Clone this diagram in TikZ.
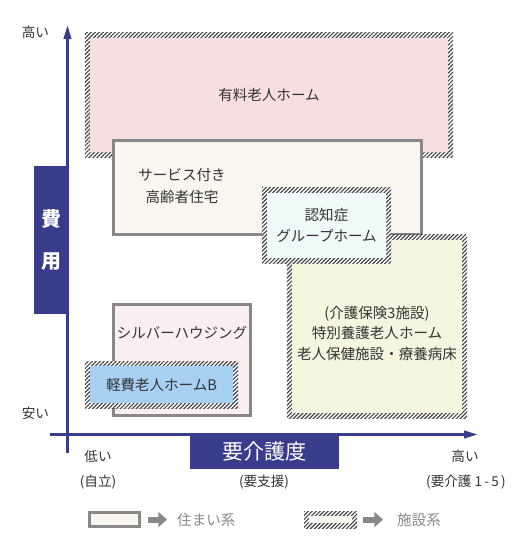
\documentclass[tikz,border=0pt]{standalone}
\usepackage{fontspec}
\setmainfont{Noto Sans CJK JP}
\usetikzlibrary{arrows.meta,positioning,calc,patterns.meta}
\definecolor{ink}{RGB}{51,51,51}
\definecolor{navy}{RGB}{56,60,138}
\definecolor{frame}{RGB}{136,136,136}
\definecolor{hatchink}{RGB}{70,70,70}
\definecolor{pinkF}{RGB}{247,223,223}
\definecolor{creamF}{RGB}{249,245,239}
\definecolor{mintF}{RGB}{238,250,248}
\definecolor{oliveF}{RGB}{245,246,224}
\definecolor{roseF}{RGB}{251,238,240}
\definecolor{skyF}{RGB}{168,208,242}
\newcommand{\lbfont}{\fontsize{12.4}{17.5}\selectfont}
\newcommand{\axfont}{\fontsize{11.6}{14}\selectfont}
\tikzset{
  hatchbox/.style={draw=none,preaction={fill=white},
    pattern={Lines[angle=45,distance=2.4pt,line width=1pt]},pattern color=hatchink,
    path picture={\fill[#1] ($(path picture bounding box.south west)+(4.3pt,4.3pt)$)
      rectangle ($(path picture bounding box.north east)-(4.3pt,4.3pt)$);},
    inner sep=0pt,text=ink,font=\lbfont,align=center},
  solidbox/.style={draw=frame,line width=2.4pt,fill=#1,inner sep=0pt,text=ink,font=\lbfont,align=center},
  lbl/.style={text=ink,font=\lbfont,align=center,inner sep=0pt},
  axlab/.style={text=ink,font=\axfont,inner sep=0pt},
  axis/.style={draw=navy,line width=2.3pt,-{Triangle[length=4.2mm,width=2.2mm]}},
  navybox/.style={fill=navy,text=white,inner sep=0pt,align=center},
  legarr/.style={draw=frame,line width=1.8mm,-{Triangle[length=2.6mm,width=4.5mm]}},
  legtxt/.style={text=frame,font=\lbfont,inner sep=0pt,anchor=west},
}

\begin{document}
\begin{tikzpicture}[x=0.03cm,y=-0.03cm]
\useasboundingbox (0,0) rectangle (530,553);
% facilities, back to front
\node[hatchbox=pinkF,minimum width=11.04cm,minimum height=3.72cm] (yuryo) at (269,95) {有料老人ホーム};
\node[solidbox=creamF,minimum width=9.24cm,minimum height=2.82cm] (sakoju) at (267.5,187.5) {};
\node[lbl] (sakojuT) at (182,186) {サービス付き\\[1.2pt]高齢者住宅};
\node[hatchbox=oliveF,minimum width=5.4cm,minimum height=5.5cm] (kaigo) at (377,326.5) {};
\node[lbl] (kaigoT) at (377,333) {(介護保険3施設)\\特別養護老人ホーム\\老人保健施設・療養病床};
\node[hatchbox=mintF,minimum width=3.87cm,minimum height=2.28cm] (ninchi) at (326.5,225.5) {認知症\\グループホーム};
\node[solidbox=roseF,minimum width=4.11cm,minimum height=3.33cm] (silver) at (182,360) {};
\node[lbl] (silverT) at (182,333) {シルバーハウジング};
\node[hatchbox=skyF,minimum width=4.59cm,minimum height=1.41cm] (keihi) at (161.5,384.5) {軽費老人ホームB};

% axes
\coordinate (vbot) at (67.5,453);
\coordinate (vtop) at (67.5,25);
\coordinate (hleft) at (50,434.5);
\coordinate (hright) at (478,434.5);
\draw[axis] (vbot) -- (vtop);
\draw[axis] (hleft) -- (hright);
\node[navybox,minimum width=1.05cm,minimum height=4.44cm,font=\fontsize{17}{36}\selectfont\bfseries] (hiyo) at (51.5,240) {費\\用};
\node[navybox,minimum width=4.47cm,minimum height=1.05cm,font=\fontsize{18}{20}\selectfont] (yokaigo) at (264.5,451.5) {要介護度};

% axis ends
\node[axlab] (takaiY) at (35.5,32) {高い};
\node[axlab] (yasui) at (35.5,413) {安い};
\node[axlab] (hikui) at (98,456) {低い};
\node[axlab] (jiritsu) at (98,482) {(自立)};
\node[axlab] (yoshien) at (264,482) {(要支援)};
\node[axlab] (takaiX) at (465,456) {高い};
\node[axlab] (yokaigoN) at (466,482) {(要介護\ 1\,-\,5\,)};

% legend
\node[solidbox=creamF,minimum width=1.5cm,minimum height=0.42cm] (legA) at (114.5,519.5) {};
\node[legtxt] (legAt) at (177,519.5) {住まい系};
\draw[legarr,shorten <=2.1mm,shorten >=3mm] (legA) -- (legAt);
\node[hatchbox=creamF,minimum width=1.59cm,minimum height=0.51cm] (legB) at (330.5,519.5) {};
\node[legtxt] (legBt) at (397,519.5) {施設系};
\draw[legarr,shorten <=1.8mm,shorten >=4.2mm] (legB) -- (legBt);
\end{tikzpicture}
\end{document}
